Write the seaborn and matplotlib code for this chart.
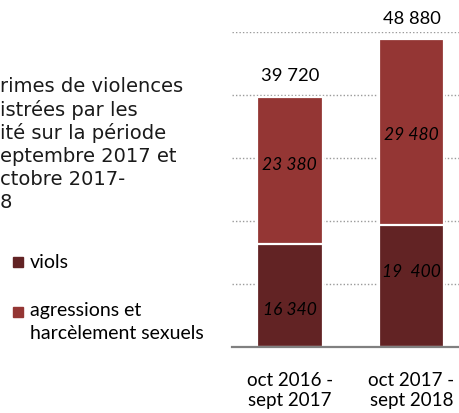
import pandas as pd
import seaborn as sns
import matplotlib.pyplot as plt

periods = ["oct 2016 -\nsept 2017", "oct 2017 -\nsept 2018"]
viols = [16340, 19400]
agressions = [23380, 29480]
totals = [v + a for v, a in zip(viols, agressions)]
viols_labels = ["16 340", "19  400"]
agressions_labels = ["23 380", "29 480"]
total_labels = ["39 720", "48 880"]
title_lines = ["rimes de violences", "istrées par les", "ité sur la période",
               "eptembre 2017 et", "ctobre 2017-", "8"]
legend_names = ["viols", "agressions et\nharcèlement sexuels"]

c_viols = "#622324"
c_agr = "#943634"

sns.set_theme(style="white")
plt.rcParams["font.family"] = ["Lato", "DejaVu Sans"]

df = pd.DataFrame({"period": periods, "viols": viols, "total": totals})

fig = plt.figure(figsize=(4.59, 4.14), dpi=100)
ax = fig.add_axes([0.505, 0.1594, 0.495, 0.7609])

# dotted gridlines
for y in range(10000, 50001, 10000):
    ax.axhline(y, color="#9a9a9a", linestyle=(0, (1, 1.5)), linewidth=1.0, zorder=0)

# stacked bars: total (agressions on top) then viols over it
sns.barplot(data=df, x="period", y="total", color=c_agr, width=0.54,
            edgecolor="white", linewidth=1.6, saturation=1, ax=ax, zorder=2)
sns.barplot(data=df, x="period", y="viols", color=c_viols, width=0.54,
            edgecolor="white", linewidth=1.6, saturation=1, ax=ax, zorder=3)

ax.set_ylim(0, 50000)
ax.set_xlim(-0.477, 1.39)
ax.set_xlabel("")
ax.set_ylabel("")
ax.set_yticks([])
ax.tick_params(axis="x", length=0, pad=17, labelsize=13.5, colors="black")
for lab in ax.get_xticklabels():
    lab.set_linespacing(1.25)
for s in ["top", "right", "left"]:
    ax.spines[s].set_visible(False)
ax.spines["bottom"].set_color("#808080")
ax.spines["bottom"].set_linewidth(1.6)
ax.spines["bottom"].set_zorder(5)

viols_pos = [0.37, 0.62]
agr_pos = [0.545, 0.49]
for i in range(len(periods)):
    ax.text(i, viols[i] * viols_pos[i], viols_labels[i], ha="center", va="center",
            fontsize=12.5, style="italic", color="black", zorder=6)
    ax.text(i, viols[i] + agressions[i] * agr_pos[i], agressions_labels[i],
            ha="center", va="center", fontsize=12.5, style="italic",
            color="black", zorder=6)
    ax.text(i, totals[i] + 3400, total_labels[i], ha="center", va="center",
            fontsize=13.2, color="black", clip_on=False)

# left text block (cut off in the original)
for k, line in enumerate(title_lines):
    fig.text(0.0, 1 - (87 + 23.2 * k) / 414, line, ha="left", va="center",
             fontsize=14, family=["DejaVu Sans"], color="#1a1a1a")

# legend
leg_y = [263, 313]
leg_c = [c_viols, c_agr]
for name, y, c in zip(legend_names, leg_y, leg_c):
    fig.patches.append(plt.Rectangle((13 / 459, 1 - (y + 5) / 414), 10 / 459, 10 / 414,
                                     transform=fig.transFigure, color=c, figure=fig))
    if "\n" in name:
        fig.text(30 / 459, 1 - (y - 11) / 414, name, ha="left", va="top",
                 fontsize=14, color="black", linespacing=1.45)
    else:
        fig.text(30 / 459, 1 - y / 414, name, ha="left", va="center",
                 fontsize=14, color="black")

fig.savefig("out.png", dpi=100)
